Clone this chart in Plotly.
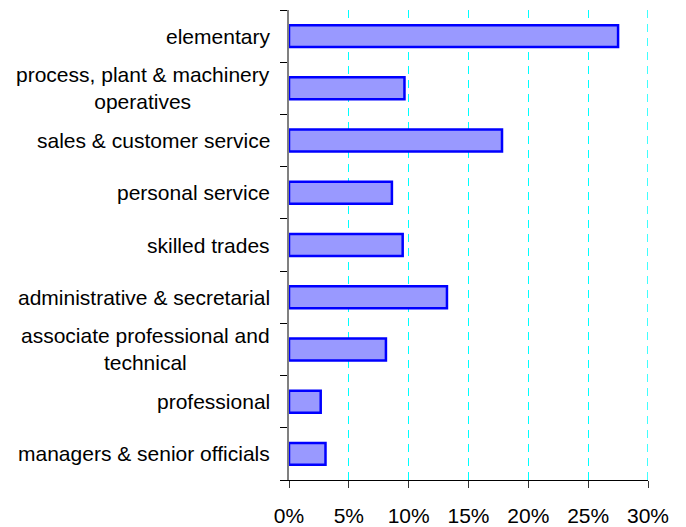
import plotly.graph_objects as go

# Occupation groups, listed top to bottom as displayed
categories = [
    "elementary",
    "process, plant & machinery<br>operatives",
    "sales & customer service",
    "personal service",
    "skilled trades",
    "administrative & secretarial",
    "associate professional and<br>technical",
    "professional",
    "managers & senior officials",
]
# Share of workers in each group (%)
shares = [27.5, 9.65, 17.8, 8.6, 9.5, 13.2, 8.1, 2.65, 3.05]

x_ticks = [0, 5, 10, 15, 20, 25, 30]
x_tick_text = [f"{v}%" for v in x_ticks]

font_family = "Liberation Sans, Arial, sans-serif"
grid_color = "#00FFFF"
grid_dash = "8px,6px"

# plot bottom-to-top so the first category sits at the top
cats_plot = categories[::-1]
vals_plot = shares[::-1]
positions = list(range(len(cats_plot)))

fig = go.Figure(
    go.Bar(
        x=vals_plot,
        y=positions,
        orientation="h",
        width=0.42,
        marker=dict(color="#9999FF", line=dict(color="#0000FF", width=2.5)),
        hoverinfo="skip",
    )
)

# category labels as centred multi-line annotations left of the axis
for pos, label in zip(positions, cats_plot):
    fig.add_annotation(
        x=0, xref="paper", y=pos, yref="y",
        text=label, showarrow=False,
        xanchor="right", yanchor="middle", align="center",
        xshift=-17,
        font=dict(family=font_family, size=21, color="black"),
    )

# gridline at the right edge of the axis range
fig.add_shape(
    type="line", xref="x", yref="paper",
    x0=x_ticks[-1], x1=x_ticks[-1], y0=0, y1=1,
    line=dict(color=grid_color, width=1.5, dash=grid_dash),
    layer="below",
)

fig.update_layout(
    width=686, height=527,
    margin=dict(l=289, r=38, t=10, b=47),
    paper_bgcolor="white", plot_bgcolor="white",
    showlegend=False,
    font=dict(family=font_family, size=21, color="black"),
)

fig.update_xaxes(
    range=[0, 30],
    tickvals=x_ticks, ticktext=x_tick_text,
    showgrid=True, gridcolor=grid_color, gridwidth=1, griddash=grid_dash,
    showline=True, linecolor="black", linewidth=1,
    ticks="outside", ticklen=7, tickcolor="#333333",
    ticklabelstandoff=10,
    automargin=False,
    zeroline=False,
    tickfont=dict(family=font_family, size=21, color="black"),
)

fig.update_yaxes(
    range=[-0.5, len(cats_plot) - 0.5],
    tickvals=[p - 0.5 for p in positions] + [len(cats_plot) - 0.5],
    showticklabels=False,
    showgrid=False, zeroline=False,
    showline=True, linecolor="#808080", linewidth=2,
    ticks="outside", ticklen=7, tickcolor="black",
    automargin=False,
)

fig.write_html("out.html")
